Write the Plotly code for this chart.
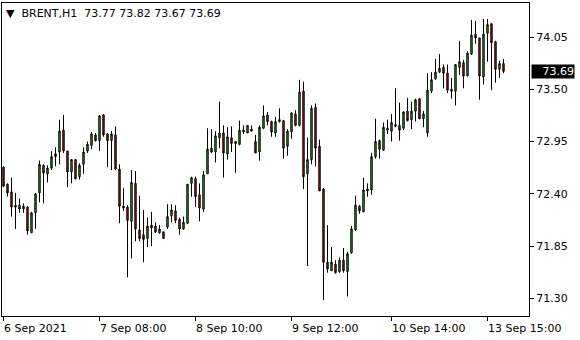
import plotly.graph_objects as go

# OHLC values (BRENT, H1)
opens = [72.68, 72.50, 72.42, 72.28, 72.28, 72.24, 72.26, 71.99, 72.20, 72.41,
         72.70, 72.61, 72.67, 72.79, 72.84, 73.07, 72.85, 72.63, 72.76, 72.58,
         72.71, 72.85, 72.91, 73.02, 72.96, 73.23, 73.03, 72.96, 73.02, 72.66,
         72.27, 72.26, 72.11, 72.51, 72.02, 71.97, 71.93, 72.07, 72.06, 71.99,
         72.00, 72.05, 72.17, 72.22, 72.13, 72.03, 72.09, 72.51, 72.56, 72.39,
         72.24, 72.61, 72.88, 72.84, 72.99, 73.04, 72.82, 72.99, 72.95, 72.92,
         73.05, 73.04, 73.06, 72.95, 72.84, 73.09, 73.23, 73.16, 73.04, 73.16,
         73.17, 72.90, 73.05, 73.24, 73.12, 73.48, 72.61, 72.76, 73.31, 72.90,
         72.45, 71.68, 71.59, 71.66, 71.58, 71.70, 71.58, 71.78, 72.02, 72.27,
         72.21, 72.43, 72.44, 72.79, 72.96, 72.86, 73.07, 73.06, 73.11, 73.12,
         73.09, 73.27, 73.18, 73.27, 73.40, 73.19, 73.04, 73.48, 73.61, 73.68,
         73.73, 73.67, 73.50, 73.48, 73.73, 73.78, 73.64, 73.87, 74.08, 74.04,
         73.63, 74.09, 74.19, 74.00, 73.71, 73.77]
highs = [72.69, 72.51, 72.57, 72.41, 72.35, 72.30, 72.27, 72.21, 72.41, 72.75,
         72.71, 72.70, 72.85, 72.89, 73.18, 73.23, 72.85, 72.76, 72.76, 72.72,
         72.89, 72.95, 73.05, 73.04, 73.23, 73.24, 73.04, 73.06, 73.11, 72.71,
         72.46, 72.28, 72.65, 72.64, 72.38, 72.23, 72.15, 72.21, 72.10, 72.07,
         72.00, 72.29, 72.29, 72.28, 72.15, 72.16, 72.50, 72.58, 72.58, 72.51,
         72.64, 73.09, 73.08, 73.06, 73.37, 73.12, 73.10, 73.11, 72.95, 73.17,
         73.12, 73.12, 73.12, 73.02, 73.12, 73.33, 73.26, 73.17, 73.21, 73.30,
         73.17, 73.08, 73.26, 73.28, 73.60, 73.58, 72.99, 73.33, 73.35, 72.97,
         72.46, 72.07, 71.84, 71.70, 71.73, 71.83, 71.79, 72.06, 72.38, 72.28,
         72.57, 72.51, 72.83, 73.19, 72.97, 73.15, 73.18, 73.24, 73.51, 73.36,
         73.27, 73.41, 73.37, 73.40, 73.40, 73.27, 73.67, 73.68, 73.82, 73.87,
         73.76, 73.76, 73.62, 73.76, 74.01, 73.81, 73.90, 74.23, 74.22, 74.04,
         74.24, 74.24, 74.19, 74.01, 73.80, 73.82]
lows = [72.47, 72.37, 72.16, 72.03, 72.20, 72.20, 71.97, 71.99, 72.03, 72.31,
        72.30, 72.52, 72.65, 72.69, 72.71, 72.83, 72.47, 72.51, 72.55, 72.55,
        72.61, 72.83, 72.87, 72.95, 72.85, 73.00, 72.68, 72.65, 72.65, 72.09,
        72.22, 71.52, 71.72, 71.90, 71.90, 71.68, 71.84, 71.85, 71.99, 71.98,
        71.93, 72.03, 72.10, 72.09, 71.97, 72.02, 72.08, 72.37, 72.26, 72.11,
        72.21, 72.61, 72.83, 72.73, 72.88, 72.57, 72.76, 72.84, 72.62, 72.91,
        73.03, 73.04, 73.06, 72.83, 72.75, 73.08, 73.12, 73.00, 73.00, 73.15,
        72.77, 72.80, 72.98, 73.11, 73.11, 72.45, 71.64, 72.71, 72.69, 72.43,
        71.28, 71.57, 71.59, 71.56, 71.57, 71.57, 71.32, 71.77, 72.01, 72.19,
        72.21, 72.37, 72.39, 72.77, 72.77, 72.85, 73.03, 72.95, 73.10, 72.96,
        73.07, 73.16, 73.08, 73.16, 73.19, 73.10, 73.00, 73.46, 73.60, 73.67,
        73.51, 73.46, 73.40, 73.33, 73.65, 73.51, 73.64, 73.86, 73.98, 73.39,
        73.55, 73.79, 73.49, 73.57, 73.62, 73.67]
closes = [72.48, 72.41, 72.26, 72.26, 72.24, 72.27, 72.01, 72.20, 72.40, 72.71,
          72.62, 72.67, 72.79, 72.82, 73.06, 72.85, 72.63, 72.76, 72.56, 72.70,
          72.84, 72.92, 73.03, 72.96, 73.22, 73.02, 72.96, 73.03, 72.66, 72.27,
          72.25, 72.12, 72.52, 72.03, 71.93, 71.92, 72.06, 72.04, 72.00, 72.03,
          71.93, 72.16, 72.23, 72.12, 72.03, 72.10, 72.50, 72.57, 72.37, 72.25,
          72.60, 72.87, 72.84, 73.01, 73.04, 72.83, 73.00, 72.93, 72.93, 73.07,
          73.07, 73.12, 73.08, 72.83, 73.10, 73.22, 73.16, 73.05, 73.16, 73.18,
          72.88, 73.06, 73.25, 73.12, 73.47, 72.58, 72.76, 73.30, 72.88, 72.43,
          71.68, 71.61, 71.68, 71.57, 71.70, 71.59, 71.77, 72.03, 72.28, 72.22,
          72.44, 72.45, 72.79, 72.95, 72.87, 73.10, 73.09, 73.15, 73.13, 73.07,
          73.26, 73.17, 73.27, 73.39, 73.19, 73.24, 73.49, 73.60, 73.68, 73.72,
          73.67, 73.49, 73.48, 73.76, 73.79, 73.64, 73.88, 74.07, 74.04, 73.64,
          74.08, 74.18, 73.99, 73.71, 73.77, 73.69]

price_ticks = [71.30, 71.85, 72.40, 72.95, 73.50, 74.05]
time_tick_bars = [0, 24, 48, 72, 97, 121]
time_tick_labels = ["6 Sep 2021", "7 Sep 08:00", "8 Sep 10:00",
                    "9 Sep 12:00", "10 Sep 14:00", "13 Sep 15:00"]
symbol = "BRENT,H1"

bars = list(range(len(opens)))
FONT = "DejaVu Sans"

fig = go.Figure(go.Candlestick(
    x=bars, open=opens, high=highs, low=lows, close=closes,
    increasing=dict(fillcolor="#2DB82D", line=dict(color="black", width=1)),
    decreasing=dict(fillcolor="#D21818", line=dict(color="black", width=1)),
    whiskerwidth=0, hoverinfo="skip", showlegend=False,
))

annotations = []
for b, lab in zip(time_tick_bars, time_tick_labels):
    annotations.append(dict(x=b, xref="x", y=0, yref="paper", text=lab,
                            xanchor="left", yanchor="top", yshift=-4, xshift=-1.5,
                            showarrow=False, font=dict(family=FONT, size=11, color="black")))

last = closes[-1]
header = "\u25BC\u00a0\u00a0" + symbol + "\u00a0\u00a0" + " ".join(
    f"{v:.2f}" for v in (opens[-1], highs[-1], lows[-1], closes[-1]))
annotations.append(dict(x=0, xref="paper", y=1, yref="paper", text=header,
                        xanchor="left", yanchor="top", xshift=2, yshift=-2,
                        showarrow=False, font=dict(family=FONT, size=11, color="black")))
annotations.append(dict(x=1, xref="paper", y=last, yref="y", text=f"{last:.2f}",
                        xanchor="left", yanchor="middle", xshift=2,
                        width=42, height=13, align="right", borderpad=0,
                        bgcolor="black", showarrow=False,
                        font=dict(family=FONT, size=11, color="white")))

fig.update_layout(
    width=580, height=340, autosize=False,
    margin=dict(l=2, r=51, t=3, b=24),
    paper_bgcolor="white", plot_bgcolor="white",
    boxgap=0.5,
    annotations=annotations,
    xaxis=dict(range=[-0.375, 131.375], rangeslider=dict(visible=False),
               showline=True, mirror=True, linecolor="black", linewidth=1,
               ticks="outside", ticklen=4, tickcolor="black",
               tickvals=time_tick_bars, showticklabels=False,
               showgrid=False, zeroline=False),
    yaxis=dict(side="right", range=[71.114, 74.408],
               showline=True, mirror=True, linecolor="black", linewidth=1,
               ticks="outside", ticklen=4, tickcolor="black",
               tickvals=price_ticks, ticktext=[f"{v:.2f}" for v in price_ticks],
               tickfont=dict(family=FONT, size=11, color="black"),
               showgrid=False, zeroline=False),
)

fig.write_html("out.html")
